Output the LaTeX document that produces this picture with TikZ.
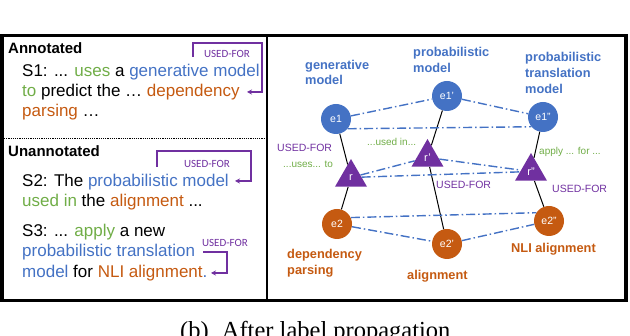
\documentclass[tikz,border=0pt]{standalone}
\usepackage{fontspec}
\setmainfont{Liberation Sans}
\newfontfamily\capserif{Liberation Serif}
\newfontfamily\carlito{Carlito}
\usetikzlibrary{shapes.geometric,arrows.meta}
\definecolor{blu}{HTML}{4472C4}
\definecolor{grn}{HTML}{70AD47}
\definecolor{org}{HTML}{C55A11}
\definecolor{pur}{HTML}{7030A0}
\newcommand\myfs[2]{\fontsize{#1}{#2}\selectfont}
\begin{document}
\begin{tikzpicture}[x=1pt,y=-1pt,
  txt/.style={anchor=base west, inner sep=0, font=\myfs{17}{20}},
  head/.style={anchor=base west, inner sep=0, font=\bfseries\myfs{15}{18}},
  lufor/.style={text=pur, font=\carlito\myfs{11}{13}, inner sep=0},
  pline/.style={draw=pur, line width=1.3pt, -{Stealth[length=5pt,width=5pt]}},
  sepline/.style={draw=black, line width=1.1pt, dash pattern=on 1.2pt off 1pt},
  ent/.style={circle, fill=#1, text=white, minimum size=30pt, inner sep=0, font=\myfs{10.5}{12}},
  rel/.style={regular polygon, regular polygon sides=3, fill=pur, minimum size=37pt, inner sep=0, text=white, font=\myfs{11}{12}},
  link/.style={draw=black, line width=1pt},
  same/.style={draw=blu, line width=1.4pt, dash pattern=on 9pt off 3pt on 1.5pt off 3pt},
  blab/.style={anchor=base west, inner sep=0, font=\bfseries\myfs{12.8}{15}},
  glab/.style={anchor=base west, inner sep=0, text=grn, font=\myfs{10}{12}},
  plab/.style={anchor=base west, inner sep=0, text=pur, font=\myfs{10.5}{12}},
  frame/.style={draw=black, line width=3.5pt},
]
\useasboundingbox (0,0) rectangle (630,336);

% frame
\draw[frame] (1.75,35.5) rectangle (626,300.5);
\draw[draw=black, line width=2pt] (267,35.5) -- (267,300.5);

% ---------- left panel ----------
\node[head] (ann) at (8,54) {Annotated};
\node[txt] (s1a) at (22,77) {S1: ... \textcolor{grn}{uses} a \textcolor{blu}{generative model}};
\node[txt] (s1b) at (22,97) {\textcolor{grn}{to} predict the … \textcolor{org}{dependency}};
\node[txt] (s1c) at (22,117) {\textcolor{org}{parsing} …};
\node[lufor] (uf1) at (227,53.5) {USED-FOR};
\coordinate (b1s) at (193,57);
\coordinate (b1e) at (247,92);
\draw[pline] (b1s) |- (262,43) |- (b1e);

\coordinate (sepL) at (4,138.5);
\coordinate (sepR) at (265,138.5);
\draw[sepline] (sepL) -- (sepR);

\node[head] (unann) at (8,157) {Unannotated};
\node[txt] (s2a) at (22,187) {S2: The \textcolor{blu}{probabilistic model}};
\node[txt] (s2b) at (22,207) {\textcolor{grn}{used in} the \textcolor{org}{alignment} ...};
\node[lufor] (uf2) at (207,163.5) {USED-FOR};
\coordinate (b2s) at (157,167);
\coordinate (b2e) at (235,181);
\draw[pline] (b2s) |- (251,151) |- (b2e);

\node[txt] (s3a) at (22,237) {S3: ... \textcolor{grn}{apply} a new};
\node[txt] (s3b) at (22,257) {\textcolor{blu}{probabilistic translation}};
\node[txt] (s3c) at (22,278) {\textcolor{blu}{model} for \textcolor{org}{NLI alignment}\textcolor{blu}{.}};
\node[lufor] (uf3) at (225,243) {USED-FOR};
\coordinate (b3s) at (203,252);
\coordinate (b3e) at (211,273);
\draw[pline] (b3s) -| (227,273) -- (b3e);

% ---------- right panel ----------
\node[ent=blu] (e1) at (336,119) {e1};
\node[ent=blu] (e1p) at (447,96) {e1’};
\node[ent=blu] (e1pp) at (543,117) {e1”};
\node[rel] (r) at (351,177.5) {r};
\node[rel] (rp) at (427.5,157.5) {r’};
\node[rel] (rpp) at (531,171.5) {r”};
\node[ent=org] (e2) at (337,224) {e2};
\node[ent=org] (e2p) at (447,244) {e2’};
\node[ent=org] (e2pp) at (549,221) {e2”};

\draw[link] (e1) -- (r);
\draw[link] (r) -- (e2);
\draw[link] (e1p) -- (rp);
\draw[link] (rp) -- (e2p);
\draw[link] (e1pp) -- (rpp);
\draw[link] (rpp) -- (e2pp);

\draw[same] (e1) -- (e1p);
\draw[same] (e1p) -- (e1pp);
\draw[same] (e1.-40) -- (e1pp.220);
\draw[same] (r) -- (rp);
\draw[same] (rp) -- (rpp);
\draw[same] (r) -- (rpp);
\draw[same] (e2.25) -- (e2pp.147);
\draw[same] (e2) -- (e2p);
\draw[same] (e2p) -- (e2pp);

% entity labels
\node[blab, text=blu] (l1a) at (305,70) {generative};
\node[blab, text=blu] (l1b) at (305,85) {model};
\node[blab, text=blu] (l2a) at (413,57) {probabilistic};
\node[blab, text=blu] (l2b) at (413,73) {model};
\node[blab, text=blu] (l3a) at (525,62) {probabilistic};
\node[blab, text=blu] (l3b) at (525,78) {translation};
\node[blab, text=blu] (l3c) at (525,94) {model};
\node[blab, text=org] (l4a) at (287,259) {dependency};
\node[blab, text=org] (l4b) at (287,275) {parsing};
\node[blab, text=org] (l5) at (407,280) {alignment};
\node[blab, text=org] (l6) at (511,253) {NLI alignment};

% relation labels
\node[plab] (u1) at (277,152) {USED-FOR};
\node[glab] (g1) at (283,168) {...uses... to};
\node[glab] (g2) at (367,146) {...used in...};
\node[glab] (g3) at (539,155) {apply ... for ...};
\node[plab] (u2) at (436,189) {USED-FOR};
\node[plab] (u3) at (552,193) {USED-FOR};

% caption (cut off at the lower edge, as in the reference)
\node[anchor=base west, inner sep=0, font=\capserif\myfs{24.5}{28}] (cap) at (180,339) {(b)\hspace{7pt} After label propagation};
\end{tikzpicture}
\end{document}
